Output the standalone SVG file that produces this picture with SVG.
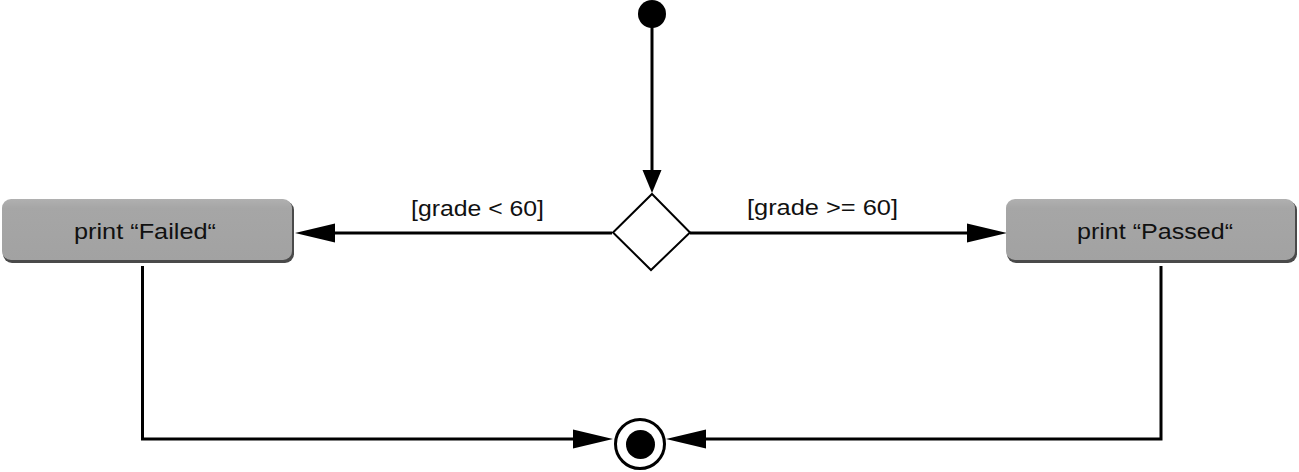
<svg xmlns="http://www.w3.org/2000/svg" width="1299" height="472" viewBox="0 0 1299 472">
<style>
.conn{fill:none;stroke:#000;stroke-width:3}
.lbl{font-family:"Liberation Sans",Arial,sans-serif;font-size:21.5px;fill:#111}
.btxt{font-family:"Liberation Sans",Arial,sans-serif;font-size:22.5px;fill:#111}
.boxShadow{fill:#4a4a4a}
.box{fill:url(#g)}
</style>
<defs>
<linearGradient id="g" x1="0" y1="0" x2="0" y2="1">
<stop offset="0" stop-color="#b0b0b0"/>
<stop offset="0.15" stop-color="#a6a6a6"/>
<stop offset="1" stop-color="#a2a2a2"/>
</linearGradient>
<marker id="ah" markerUnits="userSpaceOnUse" viewBox="0 0 40 20" markerWidth="40" markerHeight="20" refX="0" refY="10" orient="auto">
<path d="M0,0.5 L40,10 L0,19.5 Z" fill="#000"/>
</marker>
<marker id="ahs" markerUnits="userSpaceOnUse" viewBox="0 0 23 20" markerWidth="23" markerHeight="20" refX="0" refY="10" orient="auto">
<path d="M0,0.5 L23,10 L0,19.5 Z" fill="#000"/>
</marker>
</defs>
<rect width="1299" height="472" fill="#fff"/>

<g id="connectors">
<path class="conn" d="M652,27 L652,170" marker-end="url(#ahs)"/>
<path class="conn" d="M612,233 L335,233" marker-end="url(#ah)"/>
<path class="conn" d="M690,233 L967,233" marker-end="url(#ah)"/>
<path class="conn" d="M142.5,266 L142.5,439 L573,439" marker-end="url(#ah)"/>
<path class="conn" d="M1161,266 L1161,439 L706,439" marker-end="url(#ah)"/>
<text class="lbl" x="411" y="216" textLength="133" lengthAdjust="spacingAndGlyphs">[grade &lt; 60]</text>
<text class="lbl" x="747" y="215" textLength="151" lengthAdjust="spacingAndGlyphs">[grade &gt;= 60]</text>
</g>

<g id="start">
<circle cx="652" cy="14" r="14" fill="#000"/>
</g>

<g id="decision">
<polygon points="652,194 690,232.5 651,270 613,232.5" fill="#fff" stroke="#000" stroke-width="2"/>
</g>

<g id="failed">
<rect class="boxShadow" x="3" y="201" width="291" height="62" rx="9"/>
<rect class="box" x="2" y="199" width="290" height="61" rx="9"/>
<text class="btxt" x="74" y="239" textLength="142" lengthAdjust="spacingAndGlyphs">print “Failed“</text>
</g>

<g id="passed">
<rect class="boxShadow" x="1007" y="201" width="290" height="62" rx="9"/>
<rect class="box" x="1006" y="199" width="289" height="61" rx="9"/>
<text class="btxt" x="1077" y="239" textLength="156" lengthAdjust="spacingAndGlyphs">print “Passed“</text>
</g>

<g id="end">
<circle cx="640" cy="444" r="24.5" fill="#fff" stroke="#000" stroke-width="3"/>
<circle cx="640.5" cy="444.5" r="14.5" fill="#000"/>
</g>
</svg>
